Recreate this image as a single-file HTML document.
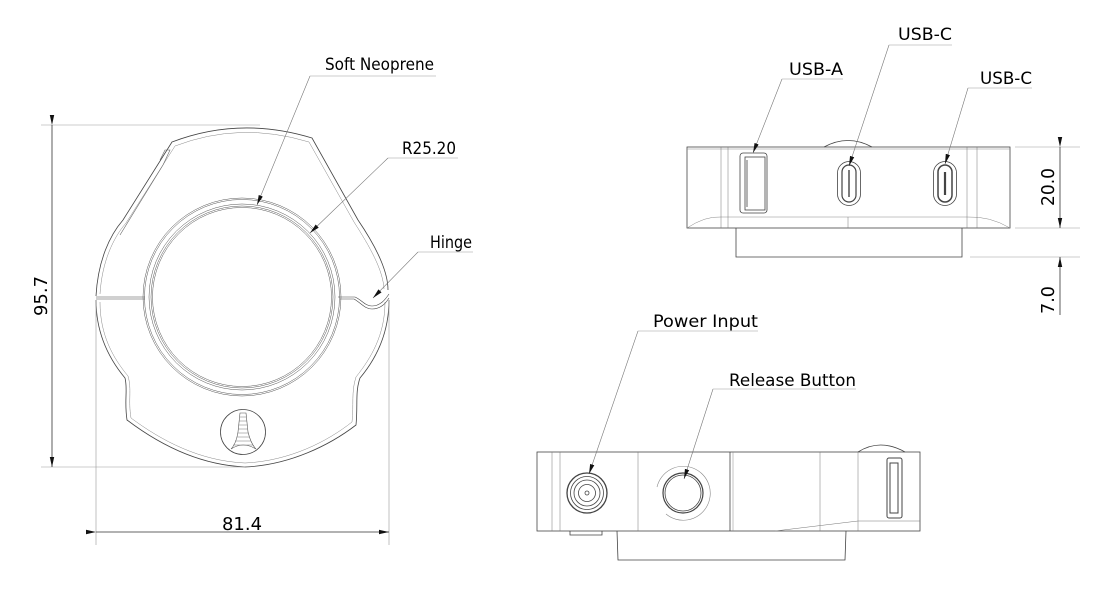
<!DOCTYPE html>
<html><head><meta charset="utf-8"><style>
html,body{margin:0;padding:0;background:#fff;}
svg{display:block;}
text{font-family:"DejaVu Sans","Liberation Sans",sans-serif;fill:#000;}
</style></head><body>
<svg width="1098" height="600" viewBox="0 0 1098 600" xmlns="http://www.w3.org/2000/svg">
<defs>
<marker id="ar" markerWidth="10" markerHeight="6" refX="10" refY="3" orient="auto" markerUnits="userSpaceOnUse"><path d="M0,0.8 L10,3 L0,5.2Z" fill="#111"/></marker>
</defs>
<g fill="none" stroke="#444" stroke-width="0.8">
<!-- FRONT VIEW -->
<path d="M96,296 C98,260 110,235 123,220 L172,142 Q240,116 312,138 L358,220 C375,245 388,270 388,290"/>
<path d="M100,294 C102,262 113,238 126,223 L175,146 Q240,121 309,142 L354,222 C370,247 383,270 384,289" stroke="#888" stroke-width="0.5"/>
<path d="M160,160 L165,150 L170,150 L163,165 L120,235" stroke="#666" stroke-width="0.6"/>
<path d="M96,300 C96,335 110,360 125,378 C128,390 124,400 127,420 C160,445 200,465 245,467 C290,465 330,445 356,425 C358,405 355,392 360,378 C375,360 389,335 389,300"/>
<path d="M100,302 C100,335 113,358 128,376 C132,390 128,400 131,418 C162,441 200,461 245,463 C290,461 328,441 352,422 C354,405 351,392 356,377 C371,358 385,335 385,302" stroke="#888" stroke-width="0.5"/>
<path d="M96,297 L145,297 M96,299 L145,299" stroke-width="0.6"/>
<path d="M338,297 L355,297 C362,300 365,306 372,306 C380,306 385,300 389,294 M340,299 L354,299 C361,303 365,309 372,309 C381,309 386,303 389,298" stroke-width="0.6"/>
<g stroke="#555" stroke-width="0.5">
<circle cx="242" cy="297" r="99"/>
<circle cx="242" cy="297" r="97.5"/>
<circle cx="242" cy="297" r="93"/>
<circle cx="242" cy="297" r="91"/>
<circle cx="242" cy="297" r="89.5"/>
</g>
<circle cx="243" cy="432" r="22.5"/>
<path d="M240,413 L246,413 L248,432 Q251,444 256,449 Q243,441 231,449 Q236,444 238,432Z" stroke="#555" stroke-width="0.6"/>
<g stroke="#777" stroke-width="0.5">
<line x1="240" y1="417" x2="246" y2="417"/><line x1="239" y1="421" x2="247" y2="421"/><line x1="239" y1="425" x2="247" y2="425"/><line x1="238" y1="429" x2="248" y2="429"/><line x1="238" y1="433" x2="248" y2="433"/><line x1="237" y1="437" x2="249" y2="437"/><line x1="235" y1="441" x2="251" y2="441"/><line x1="233" y1="445" x2="253" y2="445"/>
</g>
<g stroke="#999" stroke-width="0.6">
<line x1="41" y1="125" x2="260" y2="125"/>
<line x1="41" y1="467" x2="245" y2="467"/>
<line x1="96" y1="300" x2="96" y2="545"/>
<line x1="389" y1="300" x2="389" y2="545"/>
</g>
<line x1="52" y1="125" x2="52" y2="467" stroke="#333" marker-start="url(#ar)" marker-end="url(#ar)" stroke-width="0.8"/>
<line x1="96" y1="532" x2="389" y2="532" stroke="#333" marker-start="url(#ar)" marker-end="url(#ar)" stroke-width="0.8"/>
<g stroke="#999" stroke-width="0.6">
<line x1="310" y1="76" x2="436" y2="76"/>
<line x1="388" y1="158" x2="458" y2="158"/>
<line x1="418" y1="252" x2="473" y2="252"/>
</g>
<line x1="310" y1="76" x2="257" y2="205" stroke="#777" stroke-width="0.6" marker-end="url(#ar)"/>
<line x1="388" y1="158" x2="310" y2="233" stroke="#777" stroke-width="0.6" marker-end="url(#ar)"/>
<line x1="418" y1="252" x2="373" y2="298" stroke="#777" stroke-width="0.6" marker-end="url(#ar)"/>

<!-- TOP RIGHT VIEW -->
<path d="M824,147 Q848,134 872,147"/>
<rect x="687" y="147" width="323" height="81"/>
<line x1="687" y1="149" x2="1010" y2="149" stroke="#888" stroke-width="0.5"/>
<line x1="721" y1="217" x2="967" y2="217" stroke="#888" stroke-width="0.5"/>
<path d="M687,228 Q705,216 721,217 M1010,228 Q990,216 967,217" stroke="#888" stroke-width="0.5"/>
<g stroke="#777" stroke-width="0.5"><line x1="721" y1="147" x2="721" y2="228"/><line x1="728" y1="147" x2="728" y2="228"/><line x1="967" y1="147" x2="967" y2="228"/><line x1="977" y1="147" x2="977" y2="228"/><line x1="848" y1="217" x2="848" y2="228"/></g>
<path d="M736,228 L736,257 L962,257 L962,228"/>
<rect x="740" y="153" width="27" height="60" rx="3"/>
<rect x="745" y="157" width="20" height="53"/>
<line x1="747" y1="160" x2="747" y2="207"/>
<rect x="837.5" y="161.5" width="23" height="44" rx="11.5"/>
<rect x="842" y="165" width="14" height="37" rx="7" stroke-width="1.2"/>
<line x1="849" y1="170" x2="849" y2="197" stroke-width="1.4"/>
<rect x="933.5" y="161.5" width="23" height="44" rx="11.5"/>
<rect x="938" y="165" width="14" height="37" rx="7" stroke-width="1.5"/>
<line x1="945" y1="172" x2="945" y2="195" stroke-width="2.2"/>
<g stroke="#999" stroke-width="0.6">
<line x1="1015" y1="147" x2="1080" y2="147"/>
<line x1="1015" y1="228" x2="1080" y2="228"/>
<line x1="970" y1="257" x2="1080" y2="257"/>
<line x1="782" y1="79" x2="843" y2="79"/>
<line x1="889" y1="45" x2="952" y2="45"/>
<line x1="968" y1="88" x2="1032" y2="88"/>
</g>
<line x1="1060" y1="147" x2="1060" y2="228" stroke="#333" stroke-width="0.8" marker-start="url(#ar)" marker-end="url(#ar)"/>
<line x1="1060" y1="315" x2="1060" y2="257" stroke="#333" stroke-width="0.8" marker-end="url(#ar)"/>
<line x1="782" y1="79" x2="753" y2="153" stroke="#777" stroke-width="0.6" marker-end="url(#ar)"/>
<line x1="889" y1="45" x2="849" y2="166" stroke="#777" stroke-width="0.6" marker-end="url(#ar)"/>
<line x1="968" y1="88" x2="945" y2="164" stroke="#777" stroke-width="0.6" marker-end="url(#ar)"/>

<!-- BOTTOM VIEW -->
<path d="M858,452 Q880,438 905,452"/>
<rect x="537" y="452" width="383" height="79"/>
<line x1="730" y1="452" x2="730" y2="531"/>
<line x1="733" y1="452" x2="733" y2="531" stroke="#888" stroke-width="0.5"/>
<g stroke="#777" stroke-width="0.5"><line x1="552" y1="452" x2="552" y2="531"/><line x1="560" y1="452" x2="560" y2="531"/><line x1="638" y1="452" x2="638" y2="531"/><line x1="820" y1="452" x2="820" y2="531"/><line x1="858" y1="452" x2="858" y2="531"/><line x1="775" y1="531" x2="858" y2="521"/><line x1="858" y1="521" x2="920" y2="521"/></g>
<path d="M617,531 L618,560 L845,560 L846,531"/>
<path d="M570,531 L570,535 L602,535 L602,531"/>
<circle cx="587" cy="493" r="20" stroke-width="1.3"/>
<circle cx="587" cy="493" r="16.5"/>
<circle cx="587" cy="493" r="13"/>
<circle cx="587" cy="493" r="8.5"/>
<circle cx="587" cy="493" r="2"/>
<circle cx="683" cy="493" r="20" stroke-width="1.2"/>
<circle cx="683" cy="493" r="18"/>
<path d="M657,487 A27,27 0 1,1 666,514" stroke="#888" stroke-width="0.6"/>
<rect x="887" y="458" width="15" height="60" rx="2" stroke-width="1"/>
<rect x="890" y="463" width="8" height="50" stroke-width="1"/>
<g stroke="#999" stroke-width="0.6">
<line x1="638" y1="331" x2="758" y2="331"/>
<line x1="713" y1="389" x2="856" y2="389"/>
</g>
<line x1="638" y1="331" x2="589" y2="474" stroke="#777" stroke-width="0.6" marker-end="url(#ar)"/>
<line x1="713" y1="389" x2="684" y2="479" stroke="#777" stroke-width="0.6" marker-end="url(#ar)"/>
</g>
<g font-size="17">
<text x="325" y="70" textLength="109" lengthAdjust="spacingAndGlyphs">Soft Neoprene</text>
<text x="402" y="154" textLength="54" lengthAdjust="spacingAndGlyphs">R25.20</text>
<text x="430" y="248" textLength="42" lengthAdjust="spacingAndGlyphs">Hinge</text>
<text x="789" y="75" textLength="54" lengthAdjust="spacingAndGlyphs">USB-A</text>
<text x="898" y="40" textLength="54" lengthAdjust="spacingAndGlyphs">USB-C</text>
<text x="980" y="84" textLength="52" lengthAdjust="spacingAndGlyphs">USB-C</text>
<text x="653" y="327" textLength="105" lengthAdjust="spacingAndGlyphs">Power Input</text>
<text x="729" y="386" textLength="127" lengthAdjust="spacingAndGlyphs">Release Button</text>
<text x="222" y="530" textLength="40" lengthAdjust="spacingAndGlyphs" font-size="18">81.4</text>
<text transform="translate(47,316) rotate(-90)" textLength="40" lengthAdjust="spacingAndGlyphs" font-size="18">95.7</text>
<text transform="translate(1054,206) rotate(-90)" textLength="38" lengthAdjust="spacingAndGlyphs" font-size="18">20.0</text>
<text transform="translate(1054,314) rotate(-90)" textLength="28" lengthAdjust="spacingAndGlyphs" font-size="18">7.0</text>
</g>
</svg>
</body></html>
